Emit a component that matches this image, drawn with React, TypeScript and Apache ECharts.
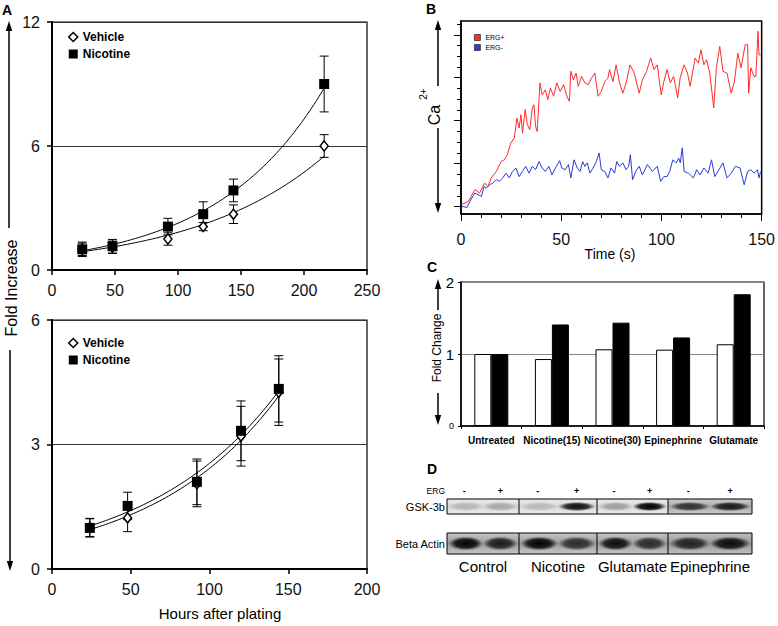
import React, { useEffect, useRef } from 'react';
import * as echarts from 'echarts';

// ---------- Panel A (top): growth over time ----------
const hoursTop = [24, 48, 92, 120, 144, 216];
const vehicleTop = [1.0, 1.1, 1.5, 2.1, 2.7, 6.0];
const vehicleTopErr = [0.3, 0.3, 0.3, 0.2, 0.45, 0.55];
const nicotineTop = [1.0, 1.15, 2.1, 2.7, 3.85, 9.0];
const nicotineTopErr = [0.35, 0.33, 0.4, 0.6, 0.55, 1.35];

// ---------- Panel A (bottom) ----------
const hoursBottom = [24, 48, 92, 120, 144];
const vehicleBottom = [1.0, 1.23, 2.05, 3.2, 4.26];
const vehicleBottomErr = [0.22, 0.33, 0.55, 0.72, 0.8];
const nicotineBottom = [0.99, 1.52, 2.1, 3.33, 4.34];
const nicotineBottomErr = [0.22, 0.33, 0.55, 0.72, 0.8];

// ---------- Panel B: Ca2+ traces ----------
const redTime = [0.3,3.6,6.9,9.3,11.8,13.4,15.1,17.6,20,21.6,23.1,24.8,26.6,27.9,29,29.9,30.7,32,33.1,34.3,35.6,36.4,37.2,38,39.4,40.5,42.1,43.3,44.6,46.2,47.8,49.5,51.2,52.8,54.1,54.8,56.1,57.4,58.5,60.2,61.8,63.5,65.1,66.8,68.4,70,71.7,73.3,74.1,75.8,77.4,79.1,80.7,82.4,84.3,86.4,88.9,90.5,92.6,94.6,96.3,97.9,99.9,101.2,102.8,104.4,106.1,108.1,109.3,111.3,113,114.3,116.8,118.4,119.7,121.2,122.5,124.1,126.1,127.4,129.1,130.7,132.7,134.8,136.4,138.1,139.7,141.8,143,143.5,144.6,146.2,147.1,148.2,148.7,149.5];
const redCa = [0.5,1.2,4.0,3.2,5.5,4.7,6.7,8.2,10.5,10.9,12.1,14.8,16,20.6,18.3,21.4,17.1,22.6,19.1,17.9,23,23.7,18.7,17.5,28.8,26,27.2,24.9,27.6,25.7,28.8,26.8,28.4,25.7,24.5,31.5,29.5,31.1,28,30.3,28.8,28.4,29.9,31.1,25.7,26.8,29.1,29.9,31.9,29.1,33,28.8,26.4,28.8,33,31.1,26.4,29.5,31.5,34.6,31.9,33,26,29.1,31.9,28.8,30.3,25.3,29.9,33,31.1,28,34.6,33.4,36.5,33,34.2,31.1,23,32.3,37.3,31.5,31.1,26.4,29.1,35.7,32.3,37.7,37.7,26.4,32.3,30.3,30.3,40.8,35.3,35.3];
const blueTime = [0.3,2.9,4.4,6.9,8.5,10.2,11.5,12.6,14.3,15.9,17.6,19.2,20.8,22.5,24.1,25.7,27.4,29,30.6,32.3,33.9,35.6,37.2,38.9,40.5,42.1,43.8,45.4,47.1,49.2,50.3,52,53.6,54.8,56.4,58,59.4,60.7,61.8,63,64.3,65.9,67.5,68.9,70,71.7,73.3,74.9,76.6,77.7,79.1,80.7,82.4,83.7,84.5,85.6,87.2,88.9,90.5,93,95.5,97.9,99.6,101.2,102.8,104.1,105.7,107.4,108.6,109.4,110.4,111.3,113.5,115.9,117.6,119.2,121.2,123.3,125,126.6,128.7,130.7,132.7,134.8,136.9,139.2,141.3,143,144.6,146.2,147.9,148.7,149.5];
const blueCa = [0.1,-0.2,1.2,3.2,2.8,2.4,4.7,4.3,5.1,5.5,6.3,5.9,6.7,7.8,6.7,8.2,9.0,7.0,8.2,9.4,7.8,9.4,8.6,10.5,9.0,8.2,9.4,7.4,9.0,10.7,9.0,8.6,9.8,6.7,10.9,9.0,8.2,10.5,9.4,10.2,7.8,9.0,10.5,12.5,8.6,8.2,6.7,9.0,7.8,10.5,9.4,10.2,8.6,9.4,12.1,6.3,8.2,9.4,7.4,9.8,8.2,9.4,5.9,7.0,7.0,8.2,10.9,10.2,11.3,10.2,13.7,8.2,7.8,6.7,8.6,7.4,9.0,7.8,10.9,7.0,8.6,10.2,6.7,7.8,9.4,9.0,5.1,8.2,8.6,7.8,8.6,6.7,8.2];
const caMajorTicks = [0, 10, 20, 30, 40];
const caMinorTicks = [2.5, 5, 7.5, 12.5, 15, 17.5, 22.5, 25, 27.5, 32.5, 35, 37.5, 42.5];

// ---------- Panel C: fold change bars ----------
const treatments = ['Untreated', 'Nicotine(15)', 'Nicotine(30)', 'Epinephrine', 'Glutamate'];
const ergMinusBars = [1.0, 0.93, 1.065, 1.06, 1.135];
const ergPlusBars = [1.0, 1.41, 1.435, 1.23, 1.83];

// ---------- Panel D: western blot ----------
const blotGroups = ['Control', 'Nicotine', 'Glutamate', 'Epinephrine'];
const ergSigns = ['-', '+'];
const gskIntensity = [0.16, 0.22, 0.14, 0.92, 0.26, 1.0, 0.72, 0.85];
const actinIntensity = [0.97, 0.82, 0.97, 0.72, 0.92, 0.72, 0.78, 0.92];

const FONT = '"Liberation Sans", Arial, Helvetica, sans-serif';

function expFit(xs: number[], ys: number[]) {
  const n = xs.length;
  const ly = ys.map((v) => Math.log(v));
  const mx = xs.reduce((a, b) => a + b, 0) / n;
  const my = ly.reduce((a, b) => a + b, 0) / n;
  let sxy = 0;
  let sxx = 0;
  for (let i = 0; i < n; i++) {
    sxy += (xs[i] - mx) * (ly[i] - my);
    sxx += (xs[i] - mx) * (xs[i] - mx);
  }
  const b = sxy / sxx;
  const a = Math.exp(my - b * mx);
  const pts: number[][] = [];
  for (let x = xs[0]; x <= xs[n - 1] + 1e-9; x += 2) pts.push([x, a * Math.exp(b * x)]);
  return pts;
}

function errBars(name: string, xi: number, yi: number, xs: number[], ys: number[], errs: number[]) {
  return {
    type: 'custom',
    name,
    xAxisIndex: xi,
    yAxisIndex: yi,
    silent: true,
    z: 3,
    data: xs.map((x, i) => [x, ys[i] - errs[i], ys[i] + errs[i]]),
    encode: { x: 0, y: [1, 2] },
    renderItem: (params: any, api: any) => {
      const x = api.value(0);
      const lo = api.coord([x, api.value(1)]);
      const hi = api.coord([x, api.value(2)]);
      const w = 4.5;
      const st = { stroke: '#000', lineWidth: 1 };
      return {
        type: 'group',
        children: [
          { type: 'line', shape: { x1: lo[0], y1: lo[1], x2: hi[0], y2: hi[1] }, style: st },
          { type: 'line', shape: { x1: lo[0] - w, y1: lo[1], x2: lo[0] + w, y2: lo[1] }, style: st },
          { type: 'line', shape: { x1: hi[0] - w, y1: hi[1], x2: hi[0] + w, y2: hi[1] }, style: st },
        ],
      };
    },
  };
}

function fitLine(name: string, xi: number, yi: number, xs: number[], ys: number[]) {
  return {
    type: 'line',
    name,
    xAxisIndex: xi,
    yAxisIndex: yi,
    data: expFit(xs, ys),
    showSymbol: false,
    symbol: 'none',
    silent: true,
    z: 2,
    lineStyle: { color: '#000', width: 1 },
  };
}

function scatterPair(xi: number, yi: number, xs: number[], veh: number[], nic: number[]) {
  return [
    {
      type: 'scatter',
      name: 'Vehicle',
      xAxisIndex: xi,
      yAxisIndex: yi,
      data: xs.map((x, i) => [x, veh[i]]),
      symbol: 'diamond',
      symbolSize: [8, 10],
      itemStyle: { color: '#fff', borderColor: '#000', borderWidth: 1.5, opacity: 1 },
      z: 4,
    },
    {
      type: 'scatter',
      name: 'Nicotine',
      xAxisIndex: xi,
      yAxisIndex: yi,
      data: xs.map((x, i) => [x, nic[i]]),
      symbol: 'rect',
      symbolSize: 10,
      itemStyle: { color: '#000', opacity: 1 },
      z: 5,
    },
  ];
}

const axisLineBlack = (w: number) => ({ show: true, onZero: false, lineStyle: { color: '#000', width: w } });

function aXAxis(gridIndex: number, max: number) {
  return {
    gridIndex,
    type: 'value',
    min: 0,
    max,
    interval: 50,
    axisLine: axisLineBlack(2),
    axisTick: { show: true, length: 5, lineStyle: { color: '#000', width: 1.5 } },
    axisLabel: { fontSize: 16, color: '#111', margin: 12, fontFamily: FONT },
    splitLine: { show: false },
  };
}

function aYAxis(gridIndex: number, max: number, interval: number) {
  return {
    gridIndex,
    type: 'value',
    min: 0,
    max,
    interval,
    axisLine: axisLineBlack(2),
    axisTick: { show: true, length: 5, lineStyle: { color: '#000', width: 1.5 } },
    axisLabel: { fontSize: 16, color: '#111', margin: 12, fontFamily: FONT },
    splitLine: { show: true, lineStyle: { color: '#333', width: 1 } },
  };
}

function vArrow(x: number, yTip: number, yEnd: number) {
  const up = yTip < yEnd;
  const d = up ? 1 : -1;
  return [
    { type: 'line', shape: { x1: x, y1: yTip + d * 4, x2: x, y2: yEnd }, style: { stroke: '#000', lineWidth: 1.5 } },
    {
      type: 'polygon',
      shape: { points: [[x, yTip], [x - 3.2, yTip + d * 10], [x + 3.2, yTip + d * 10]] },
      style: { fill: '#000' },
    },
  ];
}

function txt(text: string, x: number, y: number, size: number, opts: any = {}) {
  return {
    type: 'text',
    x,
    y,
    rotation: opts.rotation || 0,
    style: {
      text,
      fontSize: size,
      fontFamily: FONT,
      fontWeight: opts.bold ? 'bold' : 'normal',
      fill: opts.fill || '#000',
      align: opts.align || 'center',
      verticalAlign: opts.va || 'middle',
    },
  };
}

function blotElements() {
  const segX = [447, 519, 597, 668, 752];
  const gskY = [499, 514];
  const actY = [533, 554];
  const els: any[] = [];
  const strips = [
    { y: gskY, vals: gskIntensity, ry: 4.6, bg: ['#ececec', '#d6d6d6'], bgLast: ['#cdcdcd', '#a8a8a8'] },
    { y: actY, vals: actinIntensity, ry: 7, bg: ['#c6c6c6', '#9a9a9a'], bgLast: ['#c0c0c0', '#959595'] },
  ];
  strips.forEach((s) => {
    const h = s.y[1] - s.y[0];
    for (let g = 0; g < blotGroups.length; g++) {
      const x0 = segX[g];
      const w = segX[g + 1] - x0;
      const cols = g === blotGroups.length - 1 ? s.bgLast : s.bg;
      els.push({
        type: 'rect',
        shape: { x: x0, y: s.y[0], width: w, height: h },
        style: {
          fill: new echarts.graphic.LinearGradient(0, 0, 0, 1, [
            { offset: 0, color: cols[0] },
            { offset: 0.5, color: cols[1] },
            { offset: 1, color: cols[0] },
          ]),
        },
      });
      for (let j = 0; j < ergSigns.length; j++) {
        const v = s.vals[g * 2 + j];
        const cx = x0 + w * (j === 0 ? 0.26 : 0.74);
        els.push({
          type: 'ellipse',
          shape: { cx, cy: (s.y[0] + s.y[1]) / 2, rx: w * 0.24, ry: s.ry },
          style: {
            fill: new echarts.graphic.RadialGradient(0.5, 0.5, 0.5, [
              { offset: 0, color: `rgba(0,0,0,${v})` },
              { offset: 0.6, color: `rgba(0,0,0,${v * 0.85})` },
              { offset: 1, color: 'rgba(0,0,0,0)' },
            ]),
          },
        });
      }
    }
    els.push({
      type: 'rect',
      shape: { x: segX[0], y: s.y[0], width: segX[segX.length - 1] - segX[0], height: h },
      style: { fill: 'none', stroke: '#000', lineWidth: 1 },
    });
    for (let g = 1; g < blotGroups.length; g++) {
      els.push({
        type: 'line',
        shape: { x1: segX[g], y1: s.y[0], x2: segX[g], y2: s.y[1] },
        style: { stroke: '#000', lineWidth: 1 },
      });
    }
  });
  // ERG signs
  for (let g = 0; g < blotGroups.length; g++) {
    const x0 = segX[g];
    const w = segX[g + 1] - x0;
    for (let j = 0; j < ergSigns.length; j++) {
      els.push(txt(ergSigns[j], x0 + w * (j === 0 ? 0.24 : 0.74), 491, 9, { bold: true }));
    }
    els.push(txt(blotGroups[g], x0 + w / 2, 566, 15));
  }
  els.push(txt('ERG', 445, 491, 8.5, { align: 'right' }));
  els.push(txt('GSK-3b', 445, 507, 11, { align: 'right' }));
  els.push(txt('Beta Actin', 445, 544, 11, { align: 'right' }));
  return els;
}

export default function App() {
  const ref = useRef<HTMLDivElement>(null);
  useEffect(() => {
    if (!ref.current) return;
    const chart = echarts.init(ref.current, null, { renderer: 'svg' });

    const graphics: any[] = [
      txt('A', 2, 10, 14, { bold: true, align: 'left' }),
      txt('B', 426, 9, 14, { bold: true, align: 'left' }),
      txt('C', 427, 267, 14, { bold: true, align: 'left' }),
      txt('D', 427, 469, 14, { bold: true, align: 'left' }),
      ...vArrow(9, 21, 228),
      txt('Fold Increase', 11, 288, 16, { rotation: Math.PI / 2 }),
      ...vArrow(10, 571, 350),
      txt('Hours after plating', 220, 613, 15),
      ...vArrow(438, 20, 86),
      txt('Ca', 434, 115, 16, { rotation: Math.PI / 2 }),
      txt('2+', 423, 94, 10, { rotation: Math.PI / 2 }),
      ...vArrow(438, 213, 128),
      txt('Time (s)', 610, 254, 14),
      ...vArrow(438, 279, 310),
      txt('Fold Change', 437, 348, 12, { rotation: Math.PI / 2 }),
      ...vArrow(438, 425, 393),
      ...blotElements(),
    ];

    const option: any = {
      animation: false,
      textStyle: { fontFamily: FONT },
      grid: [
        { left: 52, top: 22, width: 315, height: 248, show: true, borderColor: '#000', borderWidth: 1.2, backgroundColor: 'transparent' },
        { left: 52, top: 320, width: 315, height: 249, show: true, borderColor: '#000', borderWidth: 1.2, backgroundColor: 'transparent' },
        { left: 461, top: 21, width: 305, height: 193, show: true, borderColor: '#000', borderWidth: 1.5, backgroundColor: 'transparent' },
        { left: 461, top: 282, width: 303, height: 144, show: true, borderColor: '#000', borderWidth: 1.2, backgroundColor: 'transparent' },
      ],
      legend: [
        {
          left: 63, top: 26, orient: 'vertical', itemWidth: 9, itemHeight: 9, itemGap: 5, selectedMode: false,
          textStyle: { fontSize: 12, fontWeight: 'bold', color: '#000', fontFamily: FONT },
          data: [
            { name: 'Vehicle', icon: 'diamond', itemStyle: { color: '#fff', borderColor: '#000', borderWidth: 1.5 } },
            { name: 'Nicotine', icon: 'rect', itemStyle: { color: '#000' } },
          ],
        },
        {
          left: 63, top: 332, orient: 'vertical', itemWidth: 9, itemHeight: 9, itemGap: 5, selectedMode: false,
          textStyle: { fontSize: 12, fontWeight: 'bold', color: '#000', fontFamily: FONT },
          data: [
            { name: 'Vehicle', icon: 'diamond', itemStyle: { color: '#fff', borderColor: '#000', borderWidth: 1.5 } },
            { name: 'Nicotine', icon: 'rect', itemStyle: { color: '#000' } },
          ],
        },
        {
          left: 469, top: 29, orient: 'vertical', itemWidth: 6, itemHeight: 6, itemGap: 3, selectedMode: false,
          textStyle: { fontSize: 7, color: '#000', fontFamily: FONT },
          data: [
            { name: 'ERG+', icon: 'rect', itemStyle: { color: '#ff2a2a', borderColor: '#333', borderWidth: 0.8 } },
            { name: 'ERG-', icon: 'rect', itemStyle: { color: '#2a3bd8', borderColor: '#333', borderWidth: 0.8 } },
          ],
        },
      ],
      xAxis: [
        aXAxis(0, 250),
        aXAxis(1, 200),
        {
          gridIndex: 2, type: 'value', min: 0, max: 150, interval: 50,
          axisLine: axisLineBlack(1.5),
          axisTick: { show: true, length: 7, lineStyle: { color: '#000', width: 1 } },
          minorTick: { show: true, splitNumber: 5, length: 4, lineStyle: { color: '#000', width: 1 } },
          axisLabel: { fontSize: 16, color: '#111', margin: 17, fontFamily: FONT },
          splitLine: { show: false },
        },
        {
          gridIndex: 3, type: 'category', data: treatments,
          axisLine: axisLineBlack(1.5),
          axisTick: { show: true, alignWithLabel: false, length: 3, lineStyle: { color: '#000' } },
          axisLabel: { interval: 0, fontSize: 10, fontWeight: 'bold', color: '#000', margin: 9, fontFamily: FONT },
        },
      ],
      yAxis: [
        aYAxis(0, 12, 6),
        aYAxis(1, 6, 3),
        {
          gridIndex: 2, type: 'value', min: -1.7, max: 43.2,
          axisLine: axisLineBlack(1.5),
          axisTick: { show: true, length: 7, customValues: caMajorTicks, lineStyle: { color: '#000', width: 1 } },
          axisLabel: { show: false },
          splitLine: { show: false },
        },
        {
          gridIndex: 2, type: 'value', min: -1.7, max: 43.2, position: 'left',
          axisLine: { show: false },
          axisTick: { show: true, length: 4, customValues: caMinorTicks, lineStyle: { color: '#000', width: 1 } },
          axisLabel: { show: false },
          splitLine: { show: false },
        },
        {
          gridIndex: 3, type: 'value', min: 0, max: 2, interval: 1,
          axisLine: axisLineBlack(1.5),
          axisTick: { show: true, length: 3, lineStyle: { color: '#000' } },
          axisLabel: {
            margin: 7, color: '#000', fontFamily: FONT,
            formatter: (v: number) => (v === 0 ? '{s|0}' : '{b|' + v + '}'),
            rich: { s: { fontSize: 9, fontFamily: FONT }, b: { fontSize: 15, fontFamily: FONT } },
          },
          splitLine: { show: true, lineStyle: { color: '#888', width: 1 } },
        },
      ],
      series: [
        fitLine('Vehicle fit', 0, 0, hoursTop, vehicleTop),
        fitLine('Nicotine fit', 0, 0, hoursTop, nicotineTop),
        errBars('Vehicle SE', 0, 0, hoursTop, vehicleTop, vehicleTopErr),
        errBars('Nicotine SE', 0, 0, hoursTop, nicotineTop, nicotineTopErr),
        ...scatterPair(0, 0, hoursTop, vehicleTop, nicotineTop),
        fitLine('Vehicle fit 2', 1, 1, hoursBottom, vehicleBottom),
        fitLine('Nicotine fit 2', 1, 1, hoursBottom, nicotineBottom),
        errBars('Vehicle SE 2', 1, 1, hoursBottom, vehicleBottom, vehicleBottomErr),
        errBars('Nicotine SE 2', 1, 1, hoursBottom, nicotineBottom, nicotineBottomErr),
        ...scatterPair(1, 1, hoursBottom, vehicleBottom, nicotineBottom),
        {
          type: 'line', name: 'ERG+', xAxisIndex: 2, yAxisIndex: 2,
          data: redTime.map((t, i) => [t, redCa[i]]),
          showSymbol: false, symbol: 'none', lineStyle: { color: '#ff2a2a', width: 1 }, itemStyle: { color: '#ff2a2a' }, z: 2,
        },
        {
          type: 'line', name: 'ERG-', xAxisIndex: 2, yAxisIndex: 2,
          data: blueTime.map((t, i) => [t, blueCa[i]]),
          showSymbol: false, symbol: 'none', lineStyle: { color: '#2a3bd8', width: 1 }, itemStyle: { color: '#2a3bd8' }, z: 3,
        },
        {
          type: 'bar', name: 'ERG- cells', xAxisIndex: 3, yAxisIndex: 4, data: ergMinusBars,
          barWidth: 17, barGap: '0%', itemStyle: { color: '#fff', borderColor: '#000', borderWidth: 1 }, z: 3,
        },
        {
          type: 'bar', name: 'ERG+ cells', xAxisIndex: 3, yAxisIndex: 4, data: ergPlusBars,
          barWidth: 17, barGap: '0%', itemStyle: { color: '#000', borderColor: '#000', borderWidth: 1 }, z: 3,
        },
      ],
      graphic: { elements: graphics },
    };
    chart.setOption(option);
    return () => chart.dispose();
  }, []);
  return (
    <div
      ref={ref}
      style={{ position: 'fixed', left: 0, top: 0, width: 778, height: 626, background: '#fff' }}
    />
  );
}
